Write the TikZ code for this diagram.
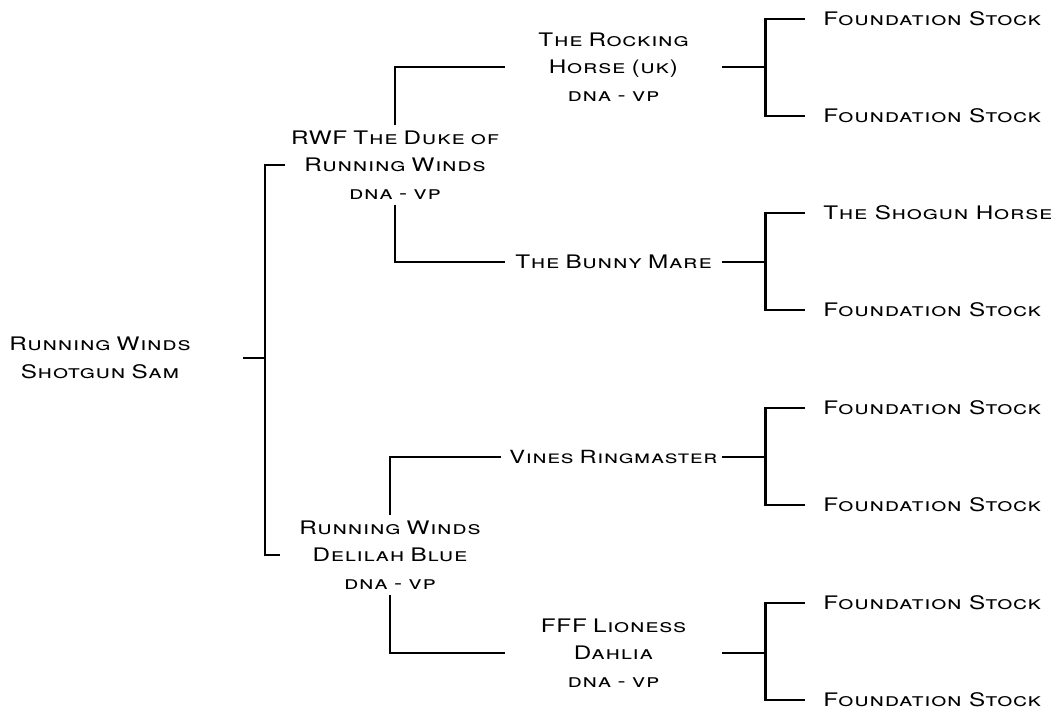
\documentclass[tikz,border=0pt]{standalone}
\usepackage{fontspec}
\setmainfont{TeX Gyre Heros}[FakeStretch=1.3, LetterSpace=4]
\usetikzlibrary{positioning,calc}

\tikzset{
  horse/.style={font=\fontsize{14}{20.5}\selectfont\scshape, inner sep=0pt, align=center},
  sire/.style={horse, text width=165pt},
  grand/.style={horse, text width=162.75pt},
  stock/.style={horse, anchor=west, inner xsep=13.5pt, align=left},
  bar/.style={line width=2.2pt},
  thinbar/.style={line width=1.5pt},
}

\begin{document}
\begin{tikzpicture}[x=0.75pt,y=-0.75pt]
\useasboundingbox (0,0) rectangle (1051,711);

% generation 0
\node[horse, text width=214.5pt] (sam) at (100,358) {Running Winds\\Shotgun Sam};
\coordinate (forkSam) at (265,358);

% generation 1
\node[sire] (duke) at (395,165) {RWF The Duke of\\Running Winds\\dna - vp};
\node[sire] (delilah) at (390,555) {Running Winds\\Delilah Blue\\dna - vp};

% generation 2
\node[grand] (rocking) at (613.5,67) {The Rocking\\Horse (uk)\\dna - vp};
\node[grand] (bunny) at (613.5,262) {The Bunny Mare};
\node[grand, fill=white, font=\fontsize{13.6}{20.5}\selectfont\scshape] (vines) at (613.5,457) {Vines Ringmaster};
\node[grand] (lioness) at (613.5,653) {FFF Lioness\\Dahlia\\dna - vp};

% generation 3
\foreach \y/\n/\t in {19/s1/Foundation Stock, 116/s2/Foundation Stock,
                      213/s3/The Shogun Horse, 310/s4/Foundation Stock,
                      408/s5/Foundation Stock, 505/s6/Foundation Stock,
                      603/s7/Foundation Stock, 700/s8/Foundation Stock}
  \node[stock] (\n) at (805,\y) {\t};

% connectors
\draw[bar] (sam.east) -- (forkSam);
\draw[bar] (duke.west) -| (forkSam) |- (delilah.west);

\draw[thinbar] ([yshift=4pt]duke.north) |- (rocking.west);
\draw[thinbar] ([yshift=-4pt]duke.south) |- (bunny.west);
\draw[thinbar] ([yshift=4pt]delilah.north) |- ([xshift=-3pt]vines.west);
\draw[thinbar] ([yshift=-4pt]delilah.south) |- (lioness.west);

\foreach \g/\a/\b in {rocking/s1/s2, bunny/s3/s4, vines/s5/s6, lioness/s7/s8}{
  \coordinate (fork\g) at ($(\g.east)+(43,0)$);
  \draw[bar] (\g.east) -- (fork\g);
  \draw[bar] (\a.west) -| (fork\g) |- (\b.west);
}
\end{tikzpicture}
\end{document}
